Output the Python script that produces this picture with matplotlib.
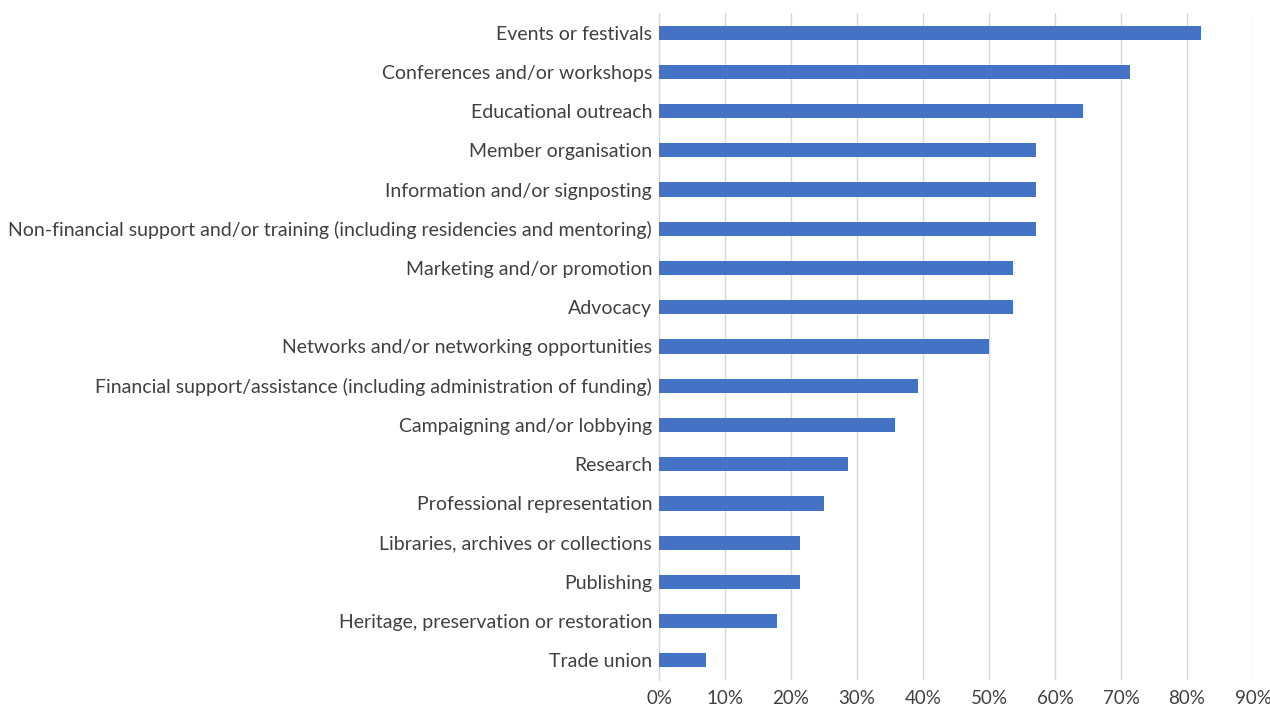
import matplotlib
matplotlib.use("Agg")
import matplotlib.pyplot as plt
from matplotlib.ticker import FuncFormatter, MultipleLocator

# Share of organisations offering each type of activity (%)
categories = [
    "Events or festivals",
    "Conferences and/or workshops",
    "Educational outreach",
    "Member organisation",
    "Information and/or signposting",
    "Non-financial support and/or training (including residencies and mentoring)",
    "Marketing and/or promotion",
    "Advocacy",
    "Networks and/or networking opportunities",
    "Financial support/assistance (including administration of funding)",
    "Campaigning and/or lobbying",
    "Research",
    "Professional representation",
    "Libraries, archives or collections",
    "Publishing",
    "Heritage, preservation or restoration",
    "Trade union",
]
values = [82.1, 71.4, 64.3, 57.1, 57.1, 57.1, 53.6, 53.6, 50.0,
          39.3, 35.7, 28.6, 25.0, 21.4, 21.4, 17.9, 7.1]

BAR = "#4472C4"
GRID = "#D9D9D9"
TEXT = "#404040"

plt.rcParams["font.family"] = ["Lato", "DejaVu Sans"]

fig = plt.figure(figsize=(12.7, 7.07), dpi=100)
ax = fig.add_axes([659 / 1270, 1 - 680 / 707, (1253 - 659) / 1270, (680 - 13) / 707])

y = list(range(len(categories)))
ax.barh(y, values, height=0.36, color=BAR, zorder=3)

ax.set_ylim(len(categories) - 0.5, -0.5)
ax.set_yticks(y)
ax.set_yticklabels(categories)

ax.set_xlim(0, 90)
ax.xaxis.set_major_locator(MultipleLocator(10))
ax.xaxis.set_major_formatter(FuncFormatter(lambda v, p: f"{v:.0f}%"))
ax.grid(axis="x", color=GRID, linewidth=1.0, zorder=0)
ax.set_axisbelow(True)

for s in ["top", "right", "bottom"]:
    ax.spines[s].set_visible(False)
ax.spines["left"].set_color(GRID)
ax.spines["left"].set_linewidth(1.0)

ax.tick_params(axis="y", length=0, pad=5, labelsize=14, labelcolor=TEXT)
ax.tick_params(axis="x", length=0, pad=7, labelsize=13.5, labelcolor=TEXT)

fig.savefig("out.png", dpi=100, facecolor="white")
